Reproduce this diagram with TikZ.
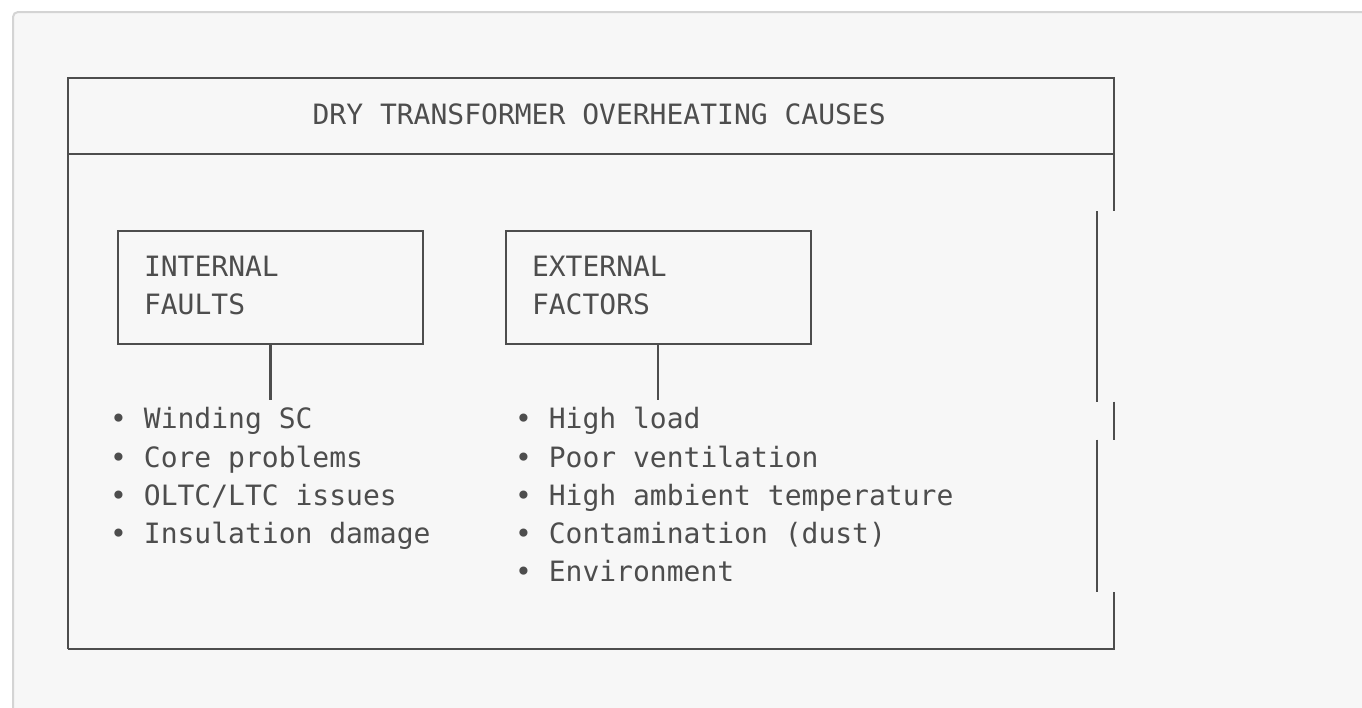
\documentclass[tikz,border=0pt]{standalone}
\usepackage{fontspec}
\newfontfamily\codefont{DejaVu Sans Mono}
\definecolor{ink}{HTML}{4D4D4D}
\definecolor{codebg}{HTML}{F7F7F7}
\definecolor{codeframe}{HTML}{D4D4D4}
\begin{document}
\begin{tikzpicture}[x=1pt,y=-1pt,
  rule/.style={draw=ink, line width=2.1pt},
  lbl/.style={anchor=base west, inner sep=0pt, outer sep=0pt, text=ink, font=\codefont\fontsize{28}{38}\selectfont},
  catbox/.style={draw=ink, line width=2.1pt, minimum width=304.5pt, minimum height=113.6pt, inner sep=0pt, outer sep=0pt}]
\useasboundingbox (0,0) rectangle (1362,707);
\fill[white] (0,0) rectangle (1362,707);
\draw[codeframe, fill=codebg, line width=2pt, rounded corners=5pt] (13,12) rectangle (1390,740);
% outer frame
\coordinate (tl) at (68,78);
\coordinate (tr) at (1114,78);
\coordinate (sl) at (68,154);
\coordinate (sr) at (1114,154);
\coordinate (bl) at (68,649);
\coordinate (br) at (1114,649);
\draw[rule] (bl) -- (tl) -- (tr) -- (1114,211.2);
\draw[rule] (sl) -- (sr);
\draw[rule] (bl) -- (br) -- (1114,592);
\draw[rule] (1097,211.2) -- (1097,401.6);
\draw[rule] (1114,401.6) -- (1114,439.7);
\draw[rule] (1097,439.7) -- (1097,592);
\node[lbl] (title) at (312.6,124.4) {DRY TRANSFORMER OVERHEATING CAUSES};
% category boxes
\node[catbox] (intbox) at (270.5,287.5) {};
\node[catbox] (extbox) at (658.4,287.5) {};
\node[lbl] (int1) at (144,276.7) {INTERNAL};
\node[lbl] (int2) at (144,314.7) {FAULTS};
\node[lbl] (ext1) at (532,276.7) {EXTERNAL};
\node[lbl] (ext2) at (532,314.7) {FACTORS};
\coordinate (intend) at (270.5,400);
\coordinate (extend) at (658.4,400);
\draw[rule] (intbox.south) -- (intend);
\draw[rule] (extbox.south) -- (extend);
% lists
\node[lbl] (ia) at (110.2,428.9) {• Winding SC};
\node[lbl] (ib) at (110.2,467.0) {• Core problems};
\node[lbl] (ic) at (110.2,505.1) {• OLTC/LTC issues};
\node[lbl] (id) at (110.2,543.1) {• Insulation damage};
\node[lbl] (ea) at (515.1,428.9) {• High load};
\node[lbl] (eb) at (515.1,467.0) {• Poor ventilation};
\node[lbl] (ec) at (515.1,505.1) {• High ambient temperature};
\node[lbl] (ed) at (515.1,543.1) {• Contamination (dust)};
\node[lbl] (ee) at (515.1,581.2) {• Environment};
\end{tikzpicture}
\end{document}
